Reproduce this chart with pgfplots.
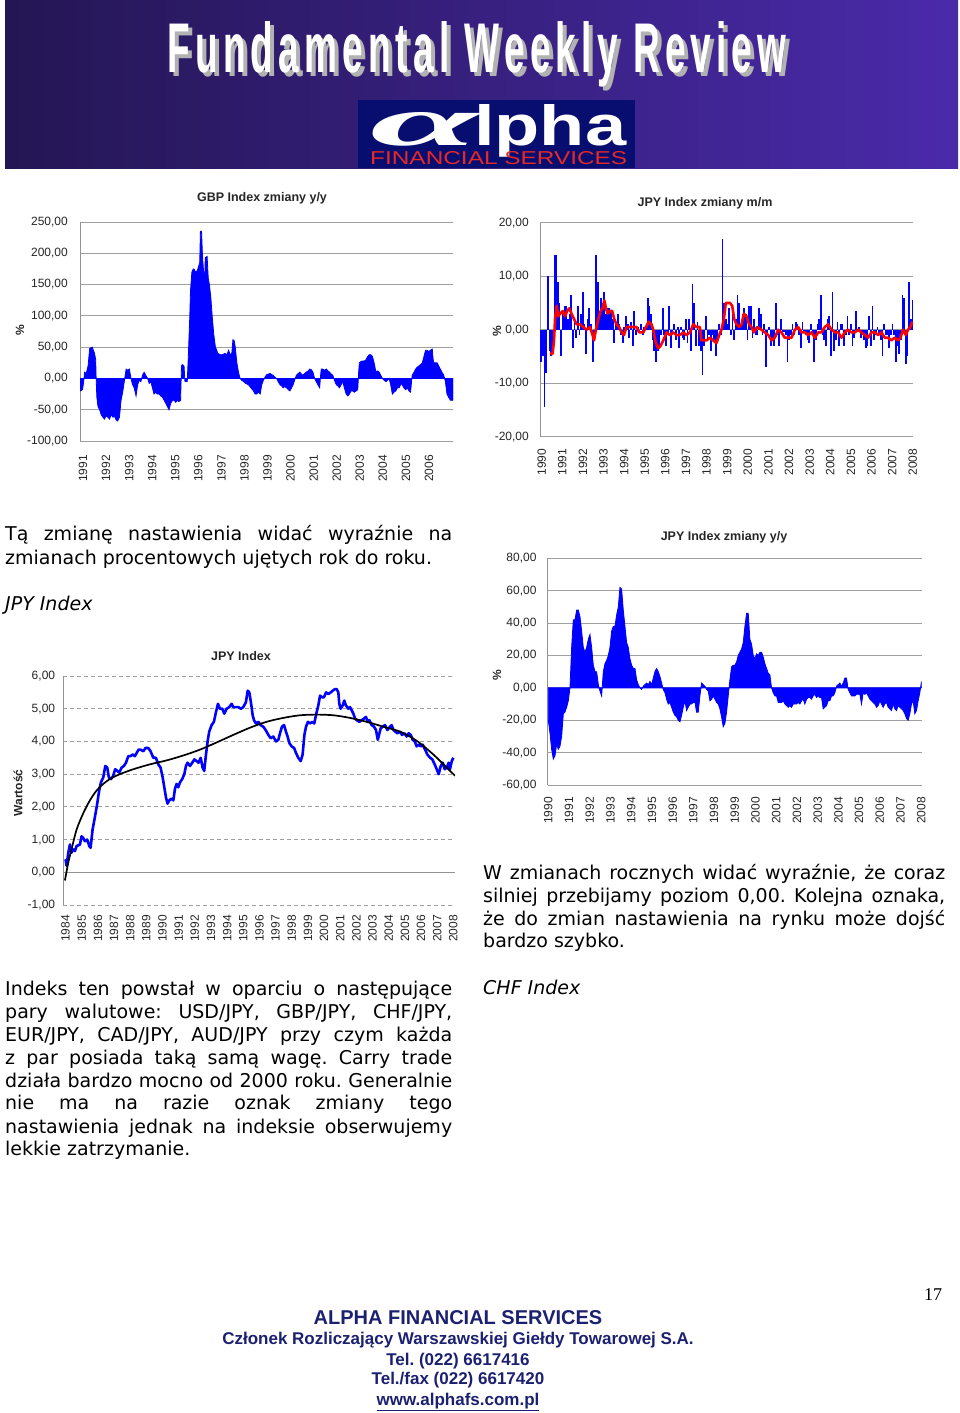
\documentclass[border=0pt]{standalone}
\usepackage{pgfplots}
\pgfplotsset{compat=1.18}
\usepackage{fontspec}
\setmainfont{DejaVu Sans}
\newfontfamily\arial{Liberation Sans}
\newfontfamily\arialsp[LetterSpace=14]{Liberation Sans}
\newfontfamily\lserif{Liberation Serif}
\definecolor{bannerL}{RGB}{36,22,84}
\definecolor{bannerR}{RGB}{74,42,170}
\definecolor{logobg}{RGB}{8,14,112}
\definecolor{logored}{RGB}{230,40,40}
\definecolor{footnavy}{RGB}{28,32,112}
\newcommand\chartfont{\arial\fontsize{12}{14}\selectfont}
\newcommand\bodyfont{\fontsize{19}{22}\selectfont}
\newcommand\foot{\arial\bfseries\fontsize{17}{20}\selectfont}
\pgfplotsset{
  base/.style={
    scale only axis, anchor=south west,
    axis x line*=bottom, axis y line*=left,
    axis line style={-},
    x axis line style={draw=none},
    y axis line style={draw=gray!85, line width=0.9pt},
    ymajorgrids, major grid style={draw=gray!75, line width=0.9pt},
    tick style={draw=none}, major tick length=0pt,
    ticklabel style={font=\chartfont, text=black!85},
    yticklabel style={anchor=east, inner sep=0pt},
    xticklabel style={rotate=90, anchor=east, inner sep=0pt},
  },
}
\begin{document}
\frenchspacing
\begin{tikzpicture}
\useasboundingbox (0pt,0pt) rectangle (960pt,-1413pt);
\fill[white] (0pt,0pt) rectangle (960pt,-1413pt);
% banner
\shade[left color=bannerL, right color=bannerR] (5pt,0pt) rectangle (958pt,-168pt);
\node[anchor=base, inner sep=0pt, text=gray!60] at (481pt,-77pt) {\resizebox{619pt}{51pt}{\arialsp\bfseries Fundamental Weekly Review}};
\node[anchor=base, inner sep=0pt, text=white] at (477pt,-73pt) {\resizebox{619pt}{51pt}{\arialsp\bfseries Fundamental Weekly Review}};
\fill[logobg] (358pt,-100pt) rectangle (635pt,-168pt);
\node[anchor=base west, inner sep=0pt, text=white] at (370pt,-145pt) {\resizebox{108pt}{33pt}{\lserif\bfseries\itshape α}};
\node[anchor=base west, inner sep=0pt, text=white] at (474pt,-145pt) {\resizebox{152pt}{41pt}{\arial\bfseries lpha}};
\node[anchor=base west, inner sep=0pt, text=logored] at (370pt,-164pt) {\resizebox{257pt}{13pt}{\arial FINANCIAL SERVICES}};

% ---------- Chart 1: GBP Index zmiany y/y
\begin{axis}[base, at={(80pt,-441pt)}, width=373pt, height=219pt,
  xmin=1990.87, xmax=2007.04, ymin=-100, ymax=250,
  ytick={-100,-50,0,50,100,150,200,250},
  yticklabels={{-100,00},{-50,00},{0,00},{50,00},{100,00},{150,00},{200,00},{250,00}},
  xtick={1991,...,2006},
  xticklabels={1991,1992,1993,1994,1995,1996,1997,1998,1999,2000,2001,2002,2003,2004,2005,2006},
  yticklabel shift=12pt, xticklabel shift=14pt]
\addplot[fill=blue, draw=blue, line width=0.8pt] coordinates {
(1990.87,-20) (1990.98,-18) (1991.03,-5) (1991.07,10) (1991.14,8) (1991.22,20) (1991.29,48) (1991.40,50) (1991.50,40) (1991.55,30) (1991.57,0) (1991.60,-30) (1991.65,-45) (1991.72,-50) (1991.79,-58) (1991.86,-62) (1991.93,-65) (1992.00,-60) (1992.08,-62) (1992.15,-65) (1992.22,-58) (1992.30,-62) (1992.36,-60) (1992.43,-66) (1992.50,-68) (1992.58,-62) (1992.65,-35) (1992.72,-22) (1992.79,-5) (1992.83,5) (1992.87,15) (1992.94,13) (1993.01,15) (1993.08,0) (1993.15,-10) (1993.22,-15) (1993.30,-28) (1993.37,-10) (1993.44,-3) (1993.51,-5) (1993.58,5) (1993.65,10) (1993.72,5) (1993.80,0) (1993.87,-8) (1993.94,-5) (1994.01,-15) (1994.08,-25) (1994.15,-22) (1994.22,-25) (1994.30,-25) (1994.37,-28) (1994.44,-30) (1994.52,-35) (1994.59,-40) (1994.66,-45) (1994.73,-50) (1994.80,-40) (1994.88,-35) (1994.95,-35) (1995.02,-38) (1995.09,-35) (1995.16,-37) (1995.23,-35) (1995.27,20) (1995.30,22) (1995.38,20) (1995.42,-5) (1995.45,-5) (1995.52,-5) (1995.56,30) (1995.59,60) (1995.63,100) (1995.66,140) (1995.72,170) (1995.78,175) (1995.81,175) (1995.88,170) (1995.95,172) (1996.02,180) (1996.06,185) (1996.09,235) (1996.14,235) (1996.18,195) (1996.21,180) (1996.27,150) (1996.30,193) (1996.38,195) (1996.43,160) (1996.48,150) (1996.54,130) (1996.60,100) (1996.67,70) (1996.74,50) (1996.80,45) (1996.84,40) (1996.95,38) (1997.05,38) (1997.15,40) (1997.24,38) (1997.31,45) (1997.38,38) (1997.45,40) (1997.50,62) (1997.56,60) (1997.60,50) (1997.67,25) (1997.74,10) (1997.81,0) (1997.88,-3) (1997.96,-5) (1998.05,-8) (1998.17,-10) (1998.28,-15) (1998.39,-20) (1998.46,-25) (1998.53,-25) (1998.60,-22) (1998.68,-25) (1998.75,-10) (1998.82,-3) (1998.89,2) (1998.96,6) (1999.04,7) (1999.11,8) (1999.18,6) (1999.25,5) (1999.32,2) (1999.39,0) (1999.46,-5) (1999.54,-10) (1999.61,-12) (1999.68,-15) (1999.75,-13) (1999.82,-15) (1999.90,-18) (1999.97,-20) (2000.04,-15) (2000.11,-10) (2000.18,-2) (2000.25,5) (2000.33,8) (2000.40,10) (2000.47,7) (2000.54,5) (2000.61,8) (2000.68,10) (2000.76,12) (2000.83,15) (2000.90,14) (2000.97,10) (2001.04,0) (2001.11,-5) (2001.18,-10) (2001.26,-15) (2001.30,5) (2001.33,15) (2001.40,15) (2001.47,13) (2001.55,15) (2001.62,12) (2001.69,10) (2001.76,7) (2001.83,5) (2001.90,-3) (2001.98,-10) (2002.05,-12) (2002.12,-15) (2002.19,-10) (2002.26,-5) (2002.33,-15) (2002.41,-25) (2002.48,-28) (2002.55,-25) (2002.62,-20) (2002.69,-20) (2002.76,-22) (2002.84,-20) (2002.91,-18) (2002.95,10) (2002.98,25) (2003.05,27) (2003.12,28) (2003.20,28) (2003.27,30) (2003.34,35) (2003.41,38) (2003.48,38) (2003.55,35) (2003.62,25) (2003.70,10) (2003.77,12) (2003.84,10) (2003.91,5) (2003.98,0) (2004.06,-3) (2004.13,-5) (2004.20,-3) (2004.27,0) (2004.34,-10) (2004.41,-25) (2004.48,-22) (2004.56,-20) (2004.63,-15) (2004.70,-15) (2004.77,-10) (2004.84,-10) (2004.91,-15) (2004.99,-18) (2005.06,-15) (2005.13,-20) (2005.20,-22) (2005.27,5) (2005.35,10) (2005.42,15) (2005.49,18) (2005.56,20) (2005.63,22) (2005.71,25) (2005.78,35) (2005.85,45) (2005.92,45) (2005.99,43) (2006.06,45) (2006.14,47) (2006.18,30) (2006.21,25) (2006.28,25) (2006.35,25) (2006.42,20) (2006.49,15) (2006.56,10) (2006.64,5) (2006.71,-5) (2006.78,-25) (2006.85,-30) (2006.93,-35) (2007.04,-35)
} \closedcycle;
\end{axis}
\node[font=\arial\bfseries\fontsize{12.5}{14}\selectfont, text=black!85] at (262pt,-198pt) {GBP Index zmiany y/y};
\node[font=\arial\bfseries\fontsize{12}{14}\selectfont, text=black!85, rotate=90] at (20pt,-330pt) {\%};

% ---------- Chart 2: JPY Index zmiany m/m
\begin{axis}[base, at={(540pt,-436.7pt)}, width=373pt, height=214pt,
  xmin=1989.92, xmax=2008.01, ymin=-20, ymax=20,
  ytick={-20,-10,0,10,20},
  yticklabels={{-20,00},{-10,00},{0,00},{10,00},{20,00}},
  xtick={1990,...,2008},
  xticklabels={1990,1991,1992,1993,1994,1995,1996,1997,1998,1999,2000,2001,2002,2003,2004,2005,2006,2007,2008},
  yticklabel shift=11pt, xticklabel shift=12pt]
\addplot[ycomb, blue, line width=1.7pt] table[row sep=\\, x expr=1989.97+0.0808*\coordindex, y=v] {
v\\ -6\\ -5\\ -14.5\\ -8\\ 10\\ -4\\ -5\\ -3\\ 14\\ 14\\
9\\ 5\\ -5\\ 3\\ 4.5\\ 4.5\\ 2\\ 3\\ 6.5\\ -3.5\\
2\\ -1.5\\ 4.5\\ -1\\ 3\\ 7\\ 1\\ -4.5\\ 2\\ 4\\
1\\ -6\\ -2\\ 14\\ 9\\ 3\\ 6\\ 5\\ 7\\ 3\\
4\\ 4\\ 3.5\\ 2\\ -2.5\\ 1\\ 3\\ 1\\ -1\\ -2.5\\
0.5\\ 2.5\\ 1\\ -1.5\\ 1.5\\ -3\\ 3.5\\ -1\\ 0.5\\ -0.5\\
1\\ -1\\ 0.5\\ 0.5\\ 6\\ 4.5\\ 3\\ -2\\ -4\\ -6\\
-4\\ -3.5\\ -1\\ 4\\ -1\\ -3\\ -1\\ 4.5\\ -3.5\\ -1\\
1\\ -2\\ 0.5\\ -3.5\\ 0.5\\ -1.5\\ -2\\ 2\\ -2.5\\ 2\\
-4\\ 8.5\\ 5\\ -3\\ 1.5\\ -3\\ -4\\ -8.5\\ -3\\ 2.5\\
-2\\ -1\\ -4\\ -1\\ -2\\ -5\\ -2\\ 1\\ -1\\ 17\\
5\\ 2\\ 1\\ 4\\ -1\\ 3\\ -2\\ 2\\ 6.5\\ 5\\
1\\ 3\\ 4\\ 3\\ -2\\ 4.5\\ 4.5\\ -1.5\\ 2\\ -1\\
-1\\ 4\\ 3\\ -1\\ 1\\ -7\\ -1\\ 0.5\\ -3\\ -2\\
-3\\ 5\\ -1\\ -3\\ 2\\ -1\\ -0.5\\ -1\\ -6\\ -2\\
-1\\ 1\\ -1\\ 1.5\\ 1\\ -1\\ -3.5\\ 1.5\\ -0.5\\ -1\\
-2\\ -2.5\\ 1\\ -1\\ -6\\ -2\\ 1\\ 2\\ 6.5\\ -1\\
-2\\ -3\\ 2\\ 2.5\\ -5\\ 7\\ -4\\ -2\\ 1.5\\ -3\\
1\\ 1\\ -3\\ -1\\ 2.5\\ -1\\ 1\\ -3\\ -1.5\\ 3.5\\
-0.5\\ 0.5\\ -1.5\\ -1\\ -2\\ -3.5\\ -3\\ 2.5\\ -3\\ 4.5\\
-2\\ -1\\ 0.5\\ -1\\ -2\\ -5\\ 1\\ -1\\ -1\\ -3.5\\
-1\\ 1\\ -1\\ -6\\ -3\\ -4.5\\ -2\\ 6.5\\ 6\\ -6.5\\
-5\\ 9\\ 2\\ 5.5\\
};
\addplot[red, line width=2.6pt, line join=round] coordinates {
(1990.40,-4.5) (1990.53,-4.5) (1990.60,-2) (1990.65,2) (1990.73,4.5) (1990.81,2.5) (1990.89,3) (1991.02,3.5) (1991.13,2.5) (1991.24,3.5) (1991.34,4) (1991.45,3) (1991.57,2) (1991.70,1) (1991.86,1) (1992.02,0.5) (1992.18,0) (1992.34,0.5) (1992.47,-1) (1992.54,-2) (1992.63,0) (1992.75,2) (1992.86,3.5) (1992.96,4) (1993.04,5.5) (1993.12,4) (1993.20,3) (1993.31,3.5) (1993.42,3.5) (1993.52,2) (1993.63,1) (1993.76,0.5) (1993.88,-0.5) (1993.99,-1) (1994.12,0.5) (1994.28,0.5) (1994.44,0.5) (1994.60,0.5) (1994.73,-0.5) (1994.93,-0.5) (1995.06,0.5) (1995.19,1.5) (1995.33,1) (1995.41,0) (1995.54,-2.5) (1995.65,-3.5) (1995.77,-3) (1995.90,-2) (1996.06,-0.5) (1996.22,-1) (1996.38,-0.5) (1996.54,-1) (1996.70,-1) (1996.87,-0.5) (1997.03,-1) (1997.19,-0.5) (1997.35,1) (1997.51,0.5) (1997.67,0.5) (1997.75,-2) (1997.99,-2) (1998.16,-1.5) (1998.32,-2) (1998.48,-2.5) (1998.61,-1) (1998.72,0) (1998.84,2) (1998.93,5) (1999.13,5) (1999.24,4.5) (1999.34,2) (1999.45,1) (1999.58,0.5) (1999.69,1) (1999.81,3) (1999.94,2.5) (2000.06,1) (2000.18,0.5) (2000.29,-0.5) (2000.45,0.5) (2000.66,0) (2000.82,-0.5) (2000.99,-1) (2001.15,-2) (2001.31,-1.5) (2001.47,0) (2001.63,-0.5) (2001.79,-1.5) (2001.95,-1.5) (2002.12,-1.5) (2002.28,0) (2002.44,0.5) (2002.60,-0.5) (2002.76,-0.5) (2002.92,-1) (2003.09,-0.5) (2003.25,-1.5) (2003.41,-0.5) (2003.57,-0.5) (2003.73,0.5) (2003.89,1) (2004.06,0) (2004.22,-0.5) (2004.38,-0.5) (2004.54,-1.5) (2004.70,-0.5) (2004.86,0) (2005.02,-0.5) (2005.19,-0.5) (2005.35,0) (2005.51,-0.5) (2005.67,-1) (2005.83,-1.5) (2005.99,-0.5) (2006.16,-0.5) (2006.32,-1) (2006.48,-0.5) (2006.64,-1.5) (2006.80,-1.5) (2006.96,-2) (2007.12,-1.5) (2007.29,-2) (2007.40,-1.5) (2007.53,0) (2007.66,-1) (2007.77,0) (2007.88,0.5) (2007.98,1.5)
};
\end{axis}
\node[font=\arial\bfseries\fontsize{12.5}{14}\selectfont, text=black!85] at (705pt,-203pt) {JPY Index zmiany m/m};
\node[font=\arial\bfseries\fontsize{12}{14}\selectfont, text=black!85, rotate=90] at (497pt,-331pt) {\%};

% ---------- Chart 3: JPY Index
\begin{axis}[base, at={(63.3pt,-905pt)}, width=391.7pt, height=229pt,
  xmin=1983.86, xmax=2008.1, ymin=-1, ymax=6,
  major grid style={draw=gray!75, line width=0.9pt, dash pattern=on 4pt off 3pt},
  ytick={-1,0,1,2,3,4,5,6},
  yticklabels={{-1,00},{0,00},{1,00},{2,00},{3,00},{4,00},{5,00},{6,00}},
  xtick={1984,...,2008},
  xticklabels={1984,1985,1986,1987,1988,1989,1990,1991,1992,1993,1994,1995,1996,1997,1998,1999,2000,2001,2002,2003,2004,2005,2006,2007,2008},
  yticklabel shift=8pt, xticklabel shift=10pt]
\draw[gray!85, line width=0.9pt] (axis cs:1983.86,0) -- (axis cs:2008.1,0);
\addplot[blue, line width=2.6pt, line join=round] coordinates {
(1984.00,0.4) (1984.06,0.2) (1984.17,0.6) (1984.27,0.85) (1984.37,0.6) (1984.47,0.7) (1984.58,0.65) (1984.68,0.8) (1984.89,0.85) (1984.99,1.1) (1985.09,1.05) (1985.20,0.95) (1985.34,1.0) (1985.47,0.8) (1985.55,0.75) (1985.67,1.3) (1985.82,1.7) (1985.96,2.1) (1986.08,2.5) (1986.19,2.75) (1986.33,2.9) (1986.46,3.25) (1986.58,3.2) (1986.68,2.9) (1986.81,2.85) (1986.95,2.95) (1987.07,3.15) (1987.20,3.1) (1987.32,3.05) (1987.47,3.2) (1987.61,3.25) (1987.74,3.35) (1987.88,3.55) (1988.02,3.55) (1988.15,3.6) (1988.29,3.55) (1988.40,3.65) (1988.52,3.75) (1988.64,3.75) (1988.81,3.7) (1988.95,3.8) (1989.12,3.8) (1989.26,3.7) (1989.43,3.5) (1989.59,3.5) (1989.74,3.3) (1989.88,3.2) (1990.01,2.9) (1990.11,2.6) (1990.21,2.3) (1990.31,2.1) (1990.42,2.2) (1990.54,2.25) (1990.67,2.2) (1990.77,2.55) (1990.87,2.7) (1990.98,2.6) (1991.08,2.75) (1991.22,2.85) (1991.35,3.0) (1991.45,3.25) (1991.55,3.35) (1991.70,3.25) (1991.84,3.35) (1991.97,3.45) (1992.11,3.4) (1992.23,3.35) (1992.36,3.5) (1992.48,3.2) (1992.58,3.1) (1992.69,3.6) (1992.79,4.0) (1992.89,4.3) (1993.04,4.5) (1993.18,4.6) (1993.31,4.9) (1993.43,5.15) (1993.55,5.0) (1993.70,5.0) (1993.82,4.85) (1993.97,5.0) (1994.13,5.05) (1994.28,5.15) (1994.38,5.05) (1994.52,5.05) (1994.69,5.05) (1994.85,5.0) (1995.00,5.05) (1995.16,5.2) (1995.27,5.55) (1995.37,5.5) (1995.47,5.2) (1995.58,4.8) (1995.66,4.65) (1995.78,4.55) (1995.93,4.6) (1996.07,4.5) (1996.24,4.45) (1996.38,4.35) (1996.55,4.2) (1996.69,4.1) (1996.86,4.15) (1997.02,4.0) (1997.17,4.05) (1997.27,4.25) (1997.39,4.45) (1997.52,4.5) (1997.64,4.3) (1997.74,4.15) (1997.85,3.95) (1997.99,3.85) (1998.14,3.8) (1998.26,3.65) (1998.40,3.5) (1998.55,3.4) (1998.67,3.6) (1998.78,4.2) (1998.88,4.45) (1999.00,4.6) (1999.13,4.55) (1999.27,4.6) (1999.39,4.55) (1999.54,4.9) (1999.64,5.1) (1999.75,5.4) (1999.87,5.35) (1999.99,5.35) (2000.12,5.5) (2000.26,5.45) (2000.41,5.5) (2000.53,5.55) (2000.67,5.6) (2000.78,5.6) (2000.88,5.5) (2000.94,5.15) (2001.02,5.0) (2001.15,5.1) (2001.25,5.25) (2001.35,5.1) (2001.50,5.0) (2001.60,5.05) (2001.71,4.95) (2001.81,4.85) (2001.91,4.7) (2002.02,4.65) (2002.18,4.6) (2002.32,4.65) (2002.47,4.7) (2002.59,4.75) (2002.70,4.6) (2002.80,4.65) (2002.94,4.5) (2003.09,4.45) (2003.21,4.35) (2003.32,4.05) (2003.40,4.2) (2003.50,4.4) (2003.62,4.45) (2003.77,4.5) (2003.91,4.35) (2004.08,4.45) (2004.18,4.5) (2004.29,4.35) (2004.41,4.3) (2004.53,4.25) (2004.70,4.3) (2004.82,4.2) (2004.97,4.25) (2005.11,4.15) (2005.23,4.25) (2005.36,4.2) (2005.48,4.05) (2005.61,4.0) (2005.73,3.85) (2005.85,3.9) (2005.98,3.85) (2006.10,3.9) (2006.25,3.75) (2006.39,3.6) (2006.56,3.5) (2006.70,3.45) (2006.84,3.3) (2006.97,3.15) (2007.09,3.0) (2007.22,3.25) (2007.34,3.35) (2007.46,3.15) (2007.59,3.2) (2007.71,3.35) (2007.79,3.15) (2007.90,3.4) (2008.00,3.5)
};
\addplot[black, line width=1.7pt, smooth] coordinates {
(1983.96,-0.25) (1984.17,0.3) (1984.37,0.7) (1984.68,1.3) (1985.09,1.8) (1985.51,2.2) (1985.92,2.5) (1986.33,2.7) (1986.74,2.85) (1987.36,3.0) (1988.19,3.15) (1989.22,3.3) (1990.25,3.42) (1991.28,3.57) (1992.32,3.75) (1993.35,3.97) (1994.38,4.2) (1995.41,4.42) (1996.44,4.6) (1997.48,4.72) (1998.51,4.8) (1999.54,4.82) (2000.57,4.8) (2001.60,4.72) (2002.63,4.6) (2003.67,4.45) (2004.70,4.3) (2005.73,4.02) (2006.76,3.6) (2007.59,3.2) (2008.10,2.95)
};
\end{axis}
\node[font=\arial\bfseries\fontsize{12.5}{14}\selectfont, text=black!85] at (241pt,-656pt) {JPY Index};
\node[font=\arial\bfseries\fontsize{12}{14}\selectfont, text=black!85, rotate=90] at (18pt,-793pt) {Wartość};

% ---------- Chart 4: JPY Index zmiany y/y
\begin{axis}[base, at={(547.7pt,-785pt)}, width=374pt, height=226.7pt,
  xmin=1989.97, xmax=2008.02, ymin=-60, ymax=80,
  ytick={-60,-40,-20,0,20,40,60,80},
  yticklabels={{-60,00},{-40,00},{-20,00},{0,00},{20,00},{40,00},{60,00},{80,00}},
  xtick={1990,...,2008},
  xticklabels={1990,1991,1992,1993,1994,1995,1996,1997,1998,1999,2000,2001,2002,2003,2004,2005,2006,2007,2008},
  yticklabel shift=11pt, xticklabel shift=12pt]
\addplot[fill=blue, draw=blue, line width=0.8pt] table[row sep=\\, x expr=1990+0.0804*\coordindex, y=v] {
v\\ -20\\ -28\\ -38\\ -44\\ -42\\ -35\\ -38\\ -36\\ -30\\ -16\\
-15\\ -12\\ -8\\ 0\\ 25\\ 42\\ 42\\ 48\\ 48\\ 44\\
35\\ 25\\ 22\\ 25\\ 30\\ 33\\ 25\\ 14\\ 10\\ 10\\
2\\ -2\\ -5\\ 10\\ 15\\ 17\\ 20\\ 25\\ 35\\ 38\\
38\\ 45\\ 50\\ 62\\ 61\\ 48\\ 38\\ 28\\ 25\\ 18\\
14\\ 12\\ 12\\ 5\\ 2\\ 0\\ -1\\ 1\\ 2\\ 3\\
2\\ 4\\ 2\\ 6\\ 10\\ 12\\ 10\\ 7\\ 3\\ -1\\
-3\\ -7\\ -10\\ -9\\ -12\\ -15\\ -17\\ -18\\ -20\\ -21\\
-17\\ -12\\ -8\\ -14\\ -12\\ -10\\ -10\\ -9\\ -9\\ -15\\
-15\\ -5\\ 3\\ 2\\ 1\\ -1\\ -2\\ -8\\ -7\\ -5\\
-7\\ -9\\ -10\\ -13\\ -18\\ -24\\ -22\\ -15\\ -5\\ 5\\
13\\ 14\\ 14\\ 16\\ 20\\ 22\\ 24\\ 28\\ 38\\ 46\\
46\\ 30\\ 27\\ 20\\ 18\\ 21\\ 20\\ 22\\ 22\\ 19\\
15\\ 12\\ 9\\ 8\\ 0\\ -3\\ -5\\ -5\\ -9\\ -9\\
-9\\ -8\\ -10\\ -11\\ -12\\ -11\\ -12\\ -10\\ -10\\ -10\\
-9\\ -10\\ -8\\ -7\\ -10\\ -7\\ -6\\ -6\\ -7\\ -5\\
-4\\ -6\\ -5\\ -6\\ -6\\ -13\\ -12\\ -11\\ -8\\ -8\\
-5\\ -5\\ -3\\ 1\\ 2\\ 3\\ 1\\ 3\\ 6\\ 6\\
-1\\ -3\\ -5\\ -5\\ -5\\ -4\\ -4\\ -4\\ -10\\ -3\\
-4\\ -3\\ -5\\ -7\\ -8\\ -9\\ -10\\ -12\\ -11\\ -8\\
-10\\ -12\\ -10\\ -9\\ -12\\ -13\\ -14\\ -10\\ -13\\ -14\\
-11\\ -12\\ -13\\ -14\\ -16\\ -19\\ -20\\ -16\\ -10\\ -8\\
-16\\ -14\\ -8\\ -3\\ 4\\
} \closedcycle;
\end{axis}
\node[font=\arial\bfseries\fontsize{12.5}{14}\selectfont, text=black!85] at (724pt,-537pt) {JPY Index zmiany y/y};
\node[font=\arial\bfseries\fontsize{12}{14}\selectfont, text=black!85, rotate=90] at (497pt,-675pt) {\%};

% ---------- body text
\begin{scope}[every node/.style={anchor=base west, inner sep=0pt, font=\bodyfont}]
\node at (5pt,-540pt) {\makebox[447pt][s]{Tą zmianę nastawienia widać wyraźnie na}};
\node at (5pt,-564pt) {zmianach procentowych ujętych rok do roku.};
\node at (5pt,-610pt) {\itshape JPY Index};
\node at (483pt,-879pt) {\makebox[462pt][s]{W zmianach rocznych widać wyraźnie, że coraz}};
\node at (483pt,-902pt) {\makebox[462pt][s]{silniej przebijamy poziom 0,00. Kolejna oznaka,}};
\node at (483pt,-925pt) {\makebox[462pt][s]{że do zmian nastawienia na rynku może dojść}};
\node at (483pt,-947pt) {bardzo szybko.};
\node at (483pt,-994pt) {\itshape CHF Index};
\node at (5pt,-995pt) {\makebox[447pt][s]{Indeks ten powstał w oparciu o następujące}};
\node at (5pt,-1018pt) {\makebox[447pt][s]{pary walutowe: USD/JPY, GBP/JPY, CHF/JPY,}};
\node at (5pt,-1041pt) {\makebox[447pt][s]{EUR/JPY, CAD/JPY, AUD/JPY przy czym każda}};
\node at (5pt,-1064pt) {\makebox[447pt][s]{z par posiada taką samą wagę. Carry trade}};
\node at (5pt,-1087pt) {\makebox[447pt][s]{działa bardzo mocno od 2000 roku. Generalnie}};
\node at (5pt,-1109pt) {\makebox[447pt][s]{nie ma na razie oznak zmiany tego}};
\node at (5pt,-1133pt) {\makebox[447pt][s]{nastawienia jednak na indeksie obserwujemy}};
\node at (5pt,-1155pt) {lekkie zatrzymanie.};
\end{scope}

% ---------- footer
\begin{scope}[every node/.style={anchor=base, inner sep=0pt, text=footnavy}]
\node at (458pt,-1324pt) {\arial\bfseries\fontsize{20}{24}\selectfont ALPHA FINANCIAL SERVICES};
\node at (458pt,-1344pt) {\foot Członek Rozliczający Warszawskiej Giełdy Towarowej S.A.};
\node at (458pt,-1365pt) {\foot Tel. (022) 6617416};
\node at (458pt,-1384pt) {\foot Tel./fax (022) 6617420};
\node at (458pt,-1405pt) {\foot\underline{www.alphafs.com.pl}};
\end{scope}
\node[anchor=base, inner sep=0pt] at (933pt,-1300pt) {\lserif\fontsize{18}{20}\selectfont 17};
\end{tikzpicture}
\end{document}
